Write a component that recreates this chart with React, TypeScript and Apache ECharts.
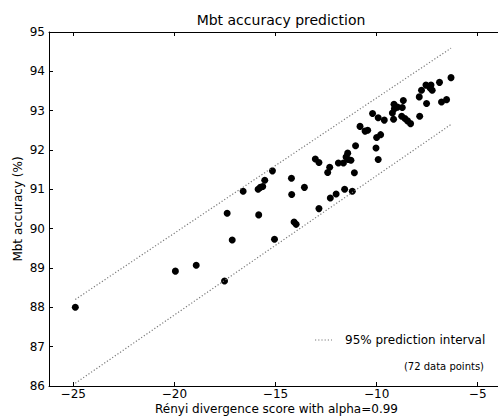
import React, { useEffect, useRef } from "react";
import * as echarts from "echarts";

// Rényi divergence score (x) and Mbt accuracy in % (y)
const scoreX = [
  -24.9, -19.95, -18.92, -17.39, -17.14, -17.52, -16.6, -15.83, -15.86, -15.75,
  -15.63, -15.53, -15.15, -15.05, -14.21, -13.57, -14.2, -14.08, -13.98, -13.03,
  -12.85, -12.42, -12.32, -12.85, -12.29, -12.0, -11.58, -11.2, -11.89, -11.64,
  -11.51, -11.43, -11.4, -11.27, -11.04, -11.1, -10.82, -10.57, -10.44, -10.0,
  -9.8, -10.03, -9.92, -10.2, -9.92, -9.62, -9.16, -9.22, -9.12, -9.14,
  -8.97, -8.68, -8.73, -8.76, -8.6, -8.47, -8.32, -7.87, -7.89, -7.78,
  -7.56, -7.31, -7.25, -7.36, -7.53, -6.89, -6.32, -6.79, -6.54,
];
const accuracyY = [
  88.0, 88.92, 89.07, 90.39, 89.71, 88.67, 90.95, 90.35, 91.0, 91.05,
  91.07, 91.23, 91.47, 89.73, 91.28, 91.05, 90.87, 90.17, 90.11, 91.77,
  91.68, 91.43, 91.56, 90.51, 90.78, 90.88, 91.0, 90.95, 91.67, 91.67,
  91.82, 91.92, 91.76, 91.74, 92.11, 91.42, 92.6, 92.48, 92.5, 92.32,
  92.39, 92.05, 91.76, 92.93, 92.82, 92.76, 92.78, 92.94, 93.05, 93.16,
  93.09, 93.26, 93.08, 92.86, 92.8, 92.74, 92.67, 92.86, 93.35, 93.52,
  93.65, 93.65, 93.52, 93.58, 93.18, 93.72, 93.84, 93.22, 93.28,
];

// 95% prediction interval bounds
const bandX = [-24.9, -6.32];
const upperY = [88.2, 94.59];
const lowerY = [86.07, 92.65];

const xTicks = [-25, -20, -15, -10, -5];
const yTicks = [86, 87, 88, 89, 90, 91, 92, 93, 94, 95];

const TITLE = "Mbt accuracy prediction";
const X_NAME = "Rényi divergence score with alpha=0.99";
const Y_NAME = "Mbt accuracy (%)";
const LEGEND_LABEL = "95% prediction interval";
const NOTE = "(72 data points)";

export default function App() {
  const ref = useRef<HTMLDivElement>(null);
  useEffect(() => {
    if (!ref.current) return;
    const chart = echarts.init(ref.current, null, { renderer: "svg" });
    const font = "DejaVu Sans";
    const fmt = (v: number) => String(v).replace("-", "\u2212");
    const axisColor = "#000";
    const bandStyle = { color: "#7a7a7a", width: 1.2, type: [1.2, 2] as number[] };
    const xBase = {
      type: "value",
      min: -26.2,
      max: -3.7,
      splitLine: { show: false },
      axisLine: { show: true, onZero: false, lineStyle: { color: axisColor, width: 1 } },
      axisTick: { show: true, inside: true, length: 4, customValues: xTicks, lineStyle: { color: axisColor } },
    };
    chart.setOption({
      animation: false,
      backgroundColor: "#fff",
      title: {
        text: TITLE,
        left: 276,
        textAlign: "center",
        top: 8,
        textStyle: { fontSize: 14, fontWeight: "normal", color: "#000", fontFamily: font },
      },
      grid: { left: 49, right: -6, top: 32, bottom: 30, containLabel: false, outerBoundsMode: "none" },
      xAxis: [
        {
          ...xBase,
          position: "bottom",
          axisLabel: { customValues: xTicks, formatter: fmt, margin: 2, color: "#000", fontSize: 12, fontFamily: font },
          name: X_NAME,
          nameLocation: "middle",
          nameGap: 17,
          nameMoveOverlap: false,
          nameTextStyle: { fontSize: 12, color: "#000", fontFamily: font },
        },
        {
          ...xBase,
          position: "top",
          axisLabel: { show: false },
        },
      ],
      yAxis: [
        {
          type: "value",
          min: 86,
          max: 95,
          interval: 1,
          position: "left",
          splitLine: { show: false },
          axisLine: { show: true, onZero: false, lineStyle: { color: axisColor, width: 1 } },
          axisTick: { show: true, inside: true, length: 4, lineStyle: { color: axisColor } },
          axisLabel: { customValues: yTicks, margin: 4, color: "#000", fontSize: 12, fontFamily: font, formatter: fmt },
          name: Y_NAME,
          nameLocation: "middle",
          nameGap: 25,
          nameMoveOverlap: false,
          nameRotate: 90,
          nameTextStyle: { fontSize: 12, color: "#000", fontFamily: font },
        },
      ],
      series: [
        {
          type: "scatter",
          xAxisIndex: 0,
          symbolSize: 7,
          itemStyle: { color: "#000", opacity: 1 },
          data: scoreX.map((x, i) => [x, accuracyY[i]]),
        },
        {
          type: "line",
          name: LEGEND_LABEL,
          xAxisIndex: 0,
          symbol: "none",
          lineStyle: bandStyle,
          data: bandX.map((x, i) => [x, upperY[i]]),
        },
        {
          type: "line",
          name: LEGEND_LABEL,
          xAxisIndex: 0,
          symbol: "none",
          lineStyle: bandStyle,
          data: bandX.map((x, i) => [x, lowerY[i]]),
        },
      ],
      graphic: [
        {
          type: "line",
          shape: { x1: 315, y1: 340, x2: 332, y2: 340 },
          style: { stroke: "#7a7a7a", lineWidth: 1.2, lineDash: [1.2, 2] },
        },
        {
          type: "text",
          x: 345,
          y: 340,
          style: { text: LEGEND_LABEL, fontSize: 12, fontFamily: font, fill: "#000", verticalAlign: "middle", align: "left" },
        },
        {
          type: "text",
          x: 484,
          y: 366,
          style: { text: NOTE, fontSize: 10, fontFamily: font, fill: "#000", verticalAlign: "middle", align: "right" },
        },
      ],
    });
    return () => chart.dispose();
  }, []);
  return (
    <div
      ref={ref}
      style={{ position: "fixed", left: 0, top: 0, width: 498, height: 416, background: "#fff" }}
    />
  );
}
